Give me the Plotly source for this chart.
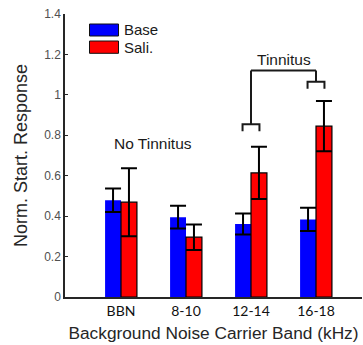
import plotly.graph_objects as go

categories = ["BBN", "8-10", "12-14", "16-18"]
base_vals = [0.479, 0.395, 0.361, 0.384]
base_err = [0.058, 0.056, 0.052, 0.057]
sali_vals = [0.469, 0.296, 0.614, 0.845]
sali_err = [0.168, 0.063, 0.129, 0.124]
y_ticks = [0, 0.2, 0.4, 0.6, 0.8, 1, 1.2, 1.4]
y_ticktext = ["0", "0.2", "0.4", "0.6", "0.8", "1", "1.2", "1.4"]

FONT = "Arial, Liberation Sans, sans-serif"
xs = list(range(len(categories)))

fig = go.Figure()
fig.add_trace(go.Bar(
    x=xs, y=base_vals, name="Base",
    marker=dict(color="#0000ff", line=dict(width=0)),
    error_y=dict(type="data", array=base_err, color="black", thickness=2, width=8),
    showlegend=False,
))
fig.add_trace(go.Bar(
    x=xs, y=sali_vals, name="Sali.",
    marker=dict(color="#ff0000", line=dict(color="black", width=1.2)),
    error_y=dict(type="data", array=sali_err, color="black", thickness=2, width=8),
    showlegend=False,
))

# plot geometry (pixels)
L, R, T, B = 65, 1, 14, 48
W, H = 363, 345
pw = W - L - R
ph = H - T - B

def px(xp):
    return (xp - L) / pw

def py(yp):
    return (H - B - yp) / ph

shapes = []
# legend boxes
shapes.append(dict(type="rect", xref="paper", yref="paper", x0=px(89.5), x1=px(118.5),
                   y0=py(36), y1=py(24), fillcolor="#0000ff", line=dict(color="#111", width=1)))
shapes.append(dict(type="rect", xref="paper", yref="paper", x0=px(89.5), x1=px(118.5),
                   y0=py(53.3), y1=py(41), fillcolor="#ff0000", line=dict(color="#111", width=1)))

# significance brackets (data coords)
blk = dict(color="#1a1a1a", width=2)
hw = 0.13
for cx, ytop, ybot in [(2, 0.854, 0.82), (3, 1.065, 1.03)]:
    shapes.append(dict(type="path", xref="x", yref="y",
                       path=f"M {cx-hw},{ybot} L {cx-hw},{ytop} L {cx+hw},{ytop} L {cx+hw},{ybot}",
                       line=blk))
    shapes.append(dict(type="line", xref="x", yref="y", x0=cx, x1=cx, y0=ytop, y1=1.12, line=blk))
shapes.append(dict(type="line", xref="x", yref="y", x0=2, x1=3, y0=1.12, y1=1.12, line=blk))

annotations = [
    dict(text="Base", xref="paper", yref="paper", x=px(122), y=py(30), xanchor="left", yanchor="middle",
         showarrow=False, font=dict(family=FONT, size=15, color="#1a1a1a")),
    dict(text="Sali.", xref="paper", yref="paper", x=px(122), y=py(47), xanchor="left", yanchor="middle",
         showarrow=False, font=dict(family=FONT, size=15, color="#1a1a1a")),
    dict(text="No Tinnitus", xref="x", yref="y", x=0.49, y=0.759, showarrow=False,
         xanchor="center", yanchor="middle", font=dict(family=FONT, size=15.5, color="#1a1a1a")),
    dict(text="Tinnitus", xref="x", yref="y", x=2.5, y=1.175, showarrow=False,
         xanchor="center", yanchor="middle", font=dict(family=FONT, size=15.5, color="#1a1a1a")),
]

x0 = -(121 - L) / 65.0
x1 = (W - R - 121) / 65.0

fig.update_layout(
    width=W, height=H,
    margin=dict(l=L, r=R, t=T, b=B, pad=0),
    paper_bgcolor="white", plot_bgcolor="white",
    barmode="group", bargap=0.51, bargroupgap=0,
    shapes=shapes, annotations=annotations,
    xaxis=dict(
        range=[x0, x1], tickvals=xs, ticktext=categories,
        showline=True, linecolor="#262626", linewidth=1.5,
        ticks="", showgrid=False, zeroline=False,
        tickfont=dict(family="Lato, sans-serif", size=14, color="#111"),
        title=dict(text="Background Noise Carrier Band (kHz)", standoff=9,
                   font=dict(family=FONT, size=17.3, color="#262626")),
    ),
    yaxis=dict(
        range=[0, 1.4], tickvals=y_ticks, ticktext=y_ticktext,
        showline=True, linecolor="#262626", linewidth=1.5,
        ticks="inside", ticklen=3, tickcolor="#262626",
        showgrid=False, zeroline=False,
        tickfont=dict(family=FONT, size=12, color="#505050"),
        title=dict(text="Norm. Start. Response", standoff=12,
                   font=dict(family=FONT, size=18, color="#262626")),
    ),
)

fig.write_html("out.html")
